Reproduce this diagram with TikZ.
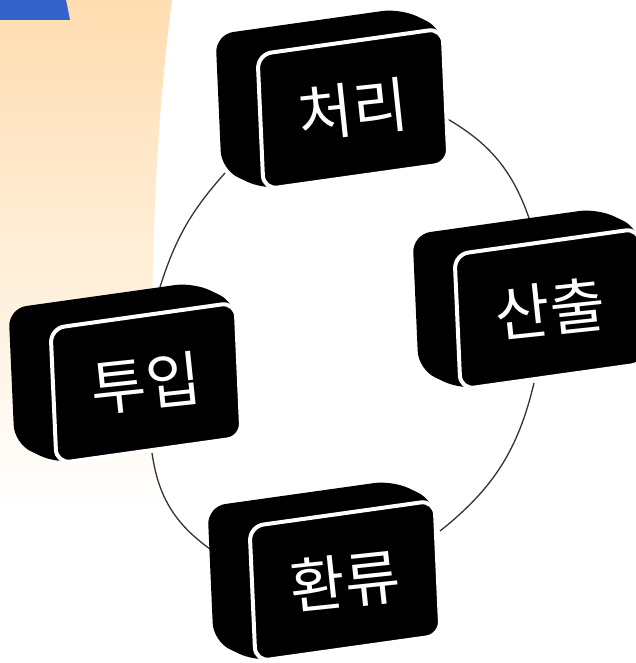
\documentclass[tikz,border=0pt]{standalone}
\usepackage{fontspec}
\newfontfamily\krfont{Noto Sans CJK KR}
\definecolor{peach}{HTML}{FFDDB0}
\definecolor{deckblue}{RGB}{51,99,200}

\begin{document}
\begin{tikzpicture}[x=1pt,y=1pt,
	boxside/.style={fill=black,rounded corners=18pt},
	boxface/.style={fill=black,draw=white,line width=4pt,rounded corners=14pt},
	boxlabel/.style={text=white,font=\krfont\fontsize{60}{60}\selectfont,rotate=6},
	cycleline/.style={draw=black!80,line width=1.3pt}]
	\useasboundingbox (0,0) rectangle (635,663);
	% background
	\shade[top color=peach,bottom color=white] (0,663) -- (172,663) .. controls (156,540) and (152,420) .. (152,313) .. controls (152,240) and (155,190) .. (160,150) -- (0,150) -- cycle;
	\fill[deckblue] (0,663) -- (66,663) -- (70,643) -- (0,643) -- cycle;
	% cycle between the boxes
	\coordinate (proc-in) at (225,490);
	\coordinate (inp-out) at (160,376);
	\coordinate (proc-out) at (444,546);
	\coordinate (out-in) at (530,442);
	\coordinate (out-out) at (534,280);
	\coordinate (fb-in) at (440,132);
	\coordinate (inp-in) at (152,210);
	\coordinate (fb-out) at (210,114);
	\draw[cycleline] (proc-in) to[bend right=12] (inp-out);
	\draw[cycleline] (proc-out) to[bend left=21] (out-in);
	\draw[cycleline] (out-out) to[bend left=19] (fb-in);
	\draw[cycleline] (inp-in) to[bend right=23] (fb-out);
	% boxes
	\foreach \cx/\cy/\name/\txt in {353/554/proc/처리, 550/354/out/산출, 146/280/inp/투입, 345/82/fb/환류}{
		\begin{scope}[shift={(\cx,\cy)}]
			\fill[boxside] (-137.5,74.5) -- (47.5,100.5) -- (89.5,80.5) -- (95.5,-54.5) -- (-89.5,-80.5) -- (-131.5,-60.5) -- cycle;
			\draw[boxface] (-95.5,54.5) -- (89.5,80.5) -- (95.5,-54.5) -- (-89.5,-80.5) -- cycle;
			\node[boxlabel] (\name) at (0,0) {\txt};
		\end{scope}
	}
\end{tikzpicture}
\end{document}
